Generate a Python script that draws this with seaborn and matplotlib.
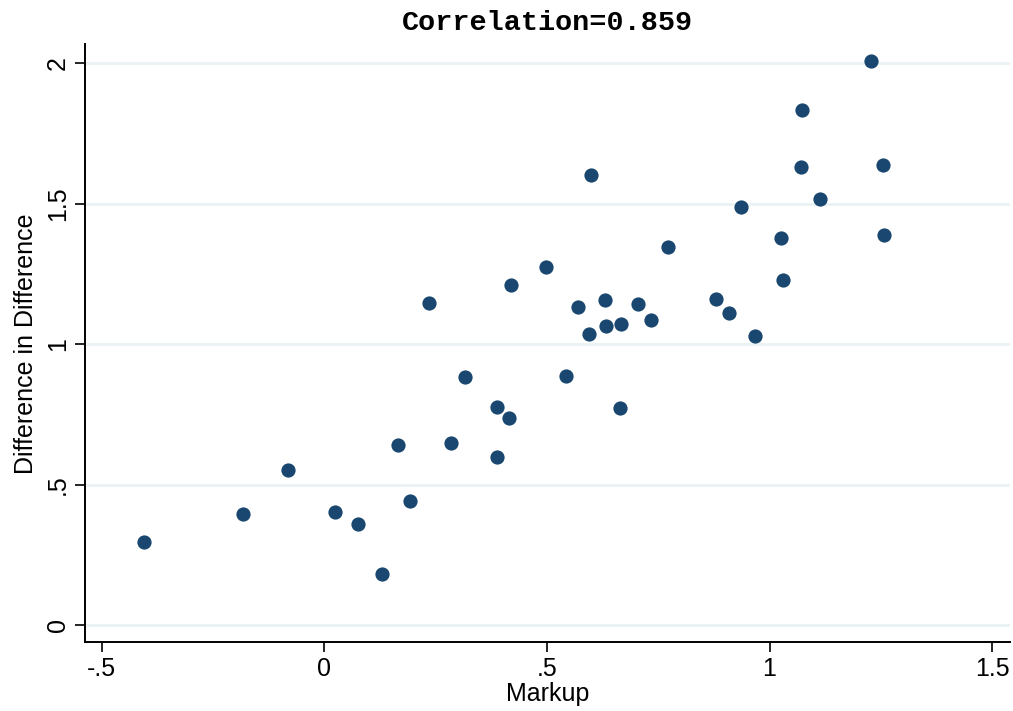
import matplotlib
matplotlib.use("Agg")
import matplotlib.pyplot as plt
import seaborn as sns
import pandas as pd

# Markup vs. difference-in-difference estimates
markup = [-0.404, -0.182, -0.082, 0.024, 0.075, 0.129, 0.165, 0.192, 0.235, 0.284,
          0.317, 0.387, 0.387, 0.416, 0.420, 0.497, 0.544, 0.571, 0.595, 0.600,
          0.631, 0.633, 0.664, 0.666, 0.704, 0.733, 0.772, 0.880, 0.909, 0.936,
          0.967, 1.025, 1.030, 1.070, 1.073, 1.113, 1.227, 1.254, 1.256]
did = [0.297, 0.397, 0.553, 0.404, 0.361, 0.183, 0.642, 0.443, 1.147, 0.649,
       0.883, 0.777, 0.599, 0.738, 1.211, 1.275, 0.887, 1.132, 1.036, 1.602,
       1.157, 1.065, 0.773, 1.072, 1.143, 1.086, 1.346, 1.161, 1.111, 1.488,
       1.029, 1.378, 1.229, 1.630, 1.833, 1.516, 2.007, 1.637, 1.389]

x_ticks = [-0.5, 0, 0.5, 1, 1.5]
x_labels = ["-.5", "0", ".5", "1", "1.5"]
y_ticks = [0, 0.5, 1, 1.5, 2]
y_labels = ["0", ".5", "1", "1.5", "2"]
title = "Correlation=0.859"

df = pd.DataFrame({"Markup": markup, "Difference in Difference": did})

sns.set_style("white")
plt.rcParams["font.family"] = ["Liberation Sans", "DejaVu Sans"]
plt.rcParams.update({
    "text.color": "black",
    "axes.labelcolor": "black",
    "xtick.color": "black",
    "ytick.color": "black",
})

fig = plt.figure(figsize=(10.13, 7.11), dpi=100)
ax = fig.add_axes([0.0836, 0.0966, 0.9134, 0.8411])

for yt in y_ticks:
    ax.axhline(yt, color="#eaf2f3", lw=2.0, zorder=0)

sns.scatterplot(data=df, x="Markup", y="Difference in Difference", ax=ax,
                color="#1a476f", s=105, linewidth=0, zorder=3)

ax.set_xlim(-0.538, 1.540)
ax.set_ylim(-0.0605, 2.0665)

ax.set_xticks(x_ticks)
ax.set_xticklabels(x_labels)
ax.set_yticks(y_ticks)
ax.set_yticklabels(y_labels, rotation=90, va="center")

ax.tick_params(axis="both", which="major", length=7.5, width=1.2, colors="black",
               labelsize=18, direction="out", pad=3, left=True, bottom=True)

for side in ["top", "right"]:
    ax.spines[side].set_visible(False)
for side in ["left", "bottom"]:
    ax.spines[side].set_color("black")
    ax.spines[side].set_linewidth(1.4)

ax.set_xlabel("Markup", fontsize=18, labelpad=1, color="black")
ax.set_ylabel("Difference in Difference", fontsize=18, labelpad=6, color="black")
ax.set_title(title, fontsize=20.5, fontweight="bold", color="black",
             family=["Liberation Mono", "DejaVu Sans Mono"], pad=10)

fig.savefig("out.png", dpi=100)
